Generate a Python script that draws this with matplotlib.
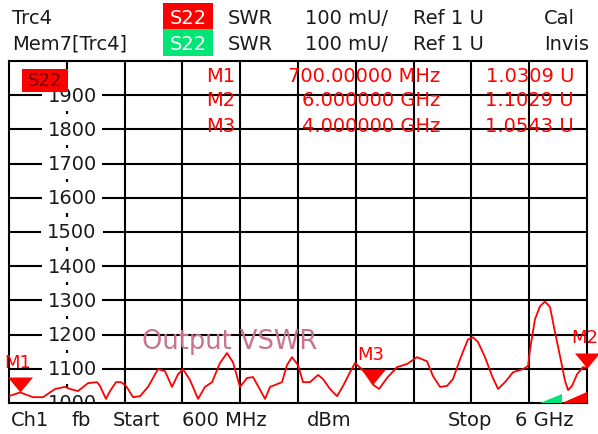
import numpy as np
import matplotlib
matplotlib.use('Agg')
import matplotlib.pyplot as plt
from matplotlib.path import Path
from matplotlib.patches import Rectangle, Polygon
import matplotlib.transforms as mtransforms

plt.rcParams['font.family'] = ['DejaVu Sans']

# S22 SWR trace, frequency in GHz, SWR in mU
freq_ghz = [0.600, 0.703, 0.824, 0.918, 1.030, 1.123, 1.170, 1.245, 1.338, 1.422,
            1.450, 1.506, 1.544, 1.600, 1.646, 1.693, 1.759, 1.824, 1.899, 1.992,
            2.058, 2.123, 2.179, 2.226, 2.291, 2.366, 2.431, 2.497, 2.571, 2.637,
            2.693, 2.758, 2.824, 2.880, 2.926, 2.992, 3.039, 3.104, 3.151, 3.197,
            3.244, 3.300, 3.347, 3.412, 3.487, 3.534, 3.599, 3.665, 3.721, 3.786,
            3.833, 3.917, 4.000, 4.057, 4.131, 4.225, 4.318, 4.412, 4.505, 4.561,
            4.627, 4.692, 4.748, 4.814, 4.888, 4.935, 4.982, 5.047, 5.113, 5.169,
            5.234, 5.309, 5.402, 5.449, 5.468, 5.514, 5.561, 5.608, 5.655, 5.701,
            5.748, 5.795, 5.823, 5.860, 5.907, 5.963, 6.000]
swr_mu = [1020, 1031, 1017, 1017, 1041, 1047, 1041, 1035, 1058, 1061,
          1050, 1012, 1035, 1061, 1061, 1050, 1017, 1020, 1047, 1099,
          1093, 1047, 1084, 1099, 1067, 1012, 1047, 1061, 1117, 1146,
          1119, 1047, 1073, 1076, 1050, 1012, 1047, 1055, 1061, 1111,
          1134, 1111, 1061, 1061, 1082, 1070, 1041, 1020, 1050, 1090,
          1117, 1093, 1054, 1041, 1073, 1105, 1114, 1134, 1122, 1079,
          1047, 1050, 1070, 1128, 1186, 1192, 1178, 1134, 1079, 1041,
          1061, 1090, 1099, 1108, 1157, 1245, 1283, 1297, 1280, 1207,
          1137, 1064, 1038, 1050, 1084, 1105, 1103]

start_ghz = 0.6
stop_ghz = 6.0
ref_mu = 1000
div_mu = 100
y_ticks = [1000, 1100, 1200, 1300, 1400, 1500, 1600, 1700, 1800, 1900]

marker_names = ['M1', 'M2', 'M3']
marker_freq_ghz = [0.7, 6.0, 4.0]
marker_swr_u = [1.0309, 1.1029, 1.0543]
marker_freq_txt = ['700.00000 MHz', '6.000000 GHz', '4.000000 GHz']

W, H = 598, 435
FS = 14
RED = '#ff0000'
INK = '#1a1a1a'


def px(x, y):
    return x / W, 1 - y / H


fig = plt.figure(figsize=(W / 100, H / 100), dpi=100)
ax = fig.add_axes([9 / W, 31 / H, 578 / W, 342 / H])
ax.set_xlim(start_ghz, stop_ghz)
ax.set_ylim(ref_mu, ref_mu + 10 * div_mu)
ax.set_xticks([])
ax.set_yticks([])
for s in ax.spines.values():
    s.set_linewidth(1.5)
    s.set_color('black')

# grid, 10 x 10 divisions (2nd vertical line is the scale column)
step = (stop_ghz - start_ghz) / 10
col1 = start_ghz + step
for k in range(2, 10):
    ax.axvline(start_ghz + k * step, color='black', lw=1.5, zorder=1)
for v in y_ticks[1:]:
    ax.axhline(v, color='black', lw=1.5, zorder=1)

# scale column
ax.plot([col1, col1], [1920, 2000], color='black', lw=1.5, zorder=1)
half = np.arange(1050, 1900, 100)
ax.vlines([col1] * len(half), half - 10, half + 10, color='black', lw=1.5, zorder=1)
lab_tr = mtransforms.blended_transform_factory(ax.transAxes, ax.transData)
for v in y_ticks:
    ax.text(63 / 578, v, str(v), transform=lab_tr, ha='center', va='center',
            fontsize=FS, color=INK, zorder=2, clip_on=True,
            bbox=dict(boxstyle='square,pad=0.3', fc='white', ec='none'))

# trace
ax.plot(freq_ghz, swr_mu, color=RED, lw=1.3, zorder=5)

# marker triangles (apex on trace)
tri = Path([(-1, 1.2), (1, 1.2), (0, 0), (-1, 1.2)],
           [Path.MOVETO, Path.LINETO, Path.LINETO, Path.CLOSEPOLY])
for name, f, u in zip(marker_names, marker_freq_ghz, marker_swr_u):
    ax.plot([f], [u * 1000], marker=tri, markersize=21.6, color=RED,
            mec=RED, mew=0, clip_on=False, zorder=6)
    ax.annotate(name, (f, u * 1000), xytext=(-1.5, 22), textcoords='offset points',
                ha='center', va='center', color=RED, fontsize=FS - 1,
                annotation_clip=False, zorder=6)

# marker table
row_y = [76, 101, 126]
for name, ftxt, u, ry in zip(marker_names, marker_freq_txt, marker_swr_u, row_y):
    fig.text(*px(235, ry), name, ha='right', va='center', color=RED, fontsize=FS)
    fig.text(*px(440, ry), ftxt, ha='right', va='center', color=RED, fontsize=FS)
    fig.text(*px(574, ry), f'{u:.4f} U', ha='right', va='center', color=RED, fontsize=FS)

# trace label
fig.text(*px(142, 342), 'Output VSWR', ha='left', va='center', color='#c8748e',
         fontsize=18.5)

# trace legend box inside the diagram
fig.patches.append(Rectangle(px(22, 93), 46 / W, 23 / H, transform=fig.transFigure,
                             fc=RED, ec='none', zorder=8))
fig.text(*px(45, 81), 'S22', ha='center', va='center', color='#6a0000',
         fontsize=FS - 1, zorder=9)

# out-of-range indicators bottom right
fig.patches.append(Polygon([px(540, 404), px(562, 395), px(562, 404)], closed=True,
                           transform=fig.transFigure, fc='#00e676', ec='none', zorder=8))
fig.patches.append(Polygon([px(562, 404), px(587, 393), px(587, 404)], closed=True,
                           transform=fig.transFigure, fc=RED, ec='none', zorder=8))

# header
fig.patches.append(Rectangle(px(163, 30), 50 / W, 26 / H, transform=fig.transFigure,
                             fc=RED, ec='none'))
fig.patches.append(Rectangle(px(163, 57), 50 / W, 27 / H, transform=fig.transFigure,
                             fc='#00e676', ec='none'))
for ry, left, mid, tail in [(18, 'Trc4', 'S22', 'Cal'), (44, 'Mem7[Trc4]', 'S22', 'Invis')]:
    fig.text(*px(12, ry), left, ha='left', va='center', color=INK, fontsize=FS)
    fig.text(*px(188, ry), mid, ha='center', va='center', color='white', fontsize=FS)
    fig.text(*px(228, ry), 'SWR', ha='left', va='center', color=INK, fontsize=FS)
    fig.text(*px(305, ry), '100 mU/', ha='left', va='center', color=INK, fontsize=FS)
    fig.text(*px(413, ry), 'Ref 1 U', ha='left', va='center', color=INK, fontsize=FS)
    fig.text(*px(544, ry), tail, ha='left', va='center', color=INK, fontsize=FS)

# footer
for x, t in [(11, 'Ch1'), (71, 'fb'), (113, 'Start'), (182, '600 MHz'),
             (307, 'dBm'), (448, 'Stop'), (515, '6 GHz')]:
    fig.text(*px(x, 421), t, ha='left', va='center', color=INK, fontsize=FS)

fig.savefig('out.png', dpi=100)
